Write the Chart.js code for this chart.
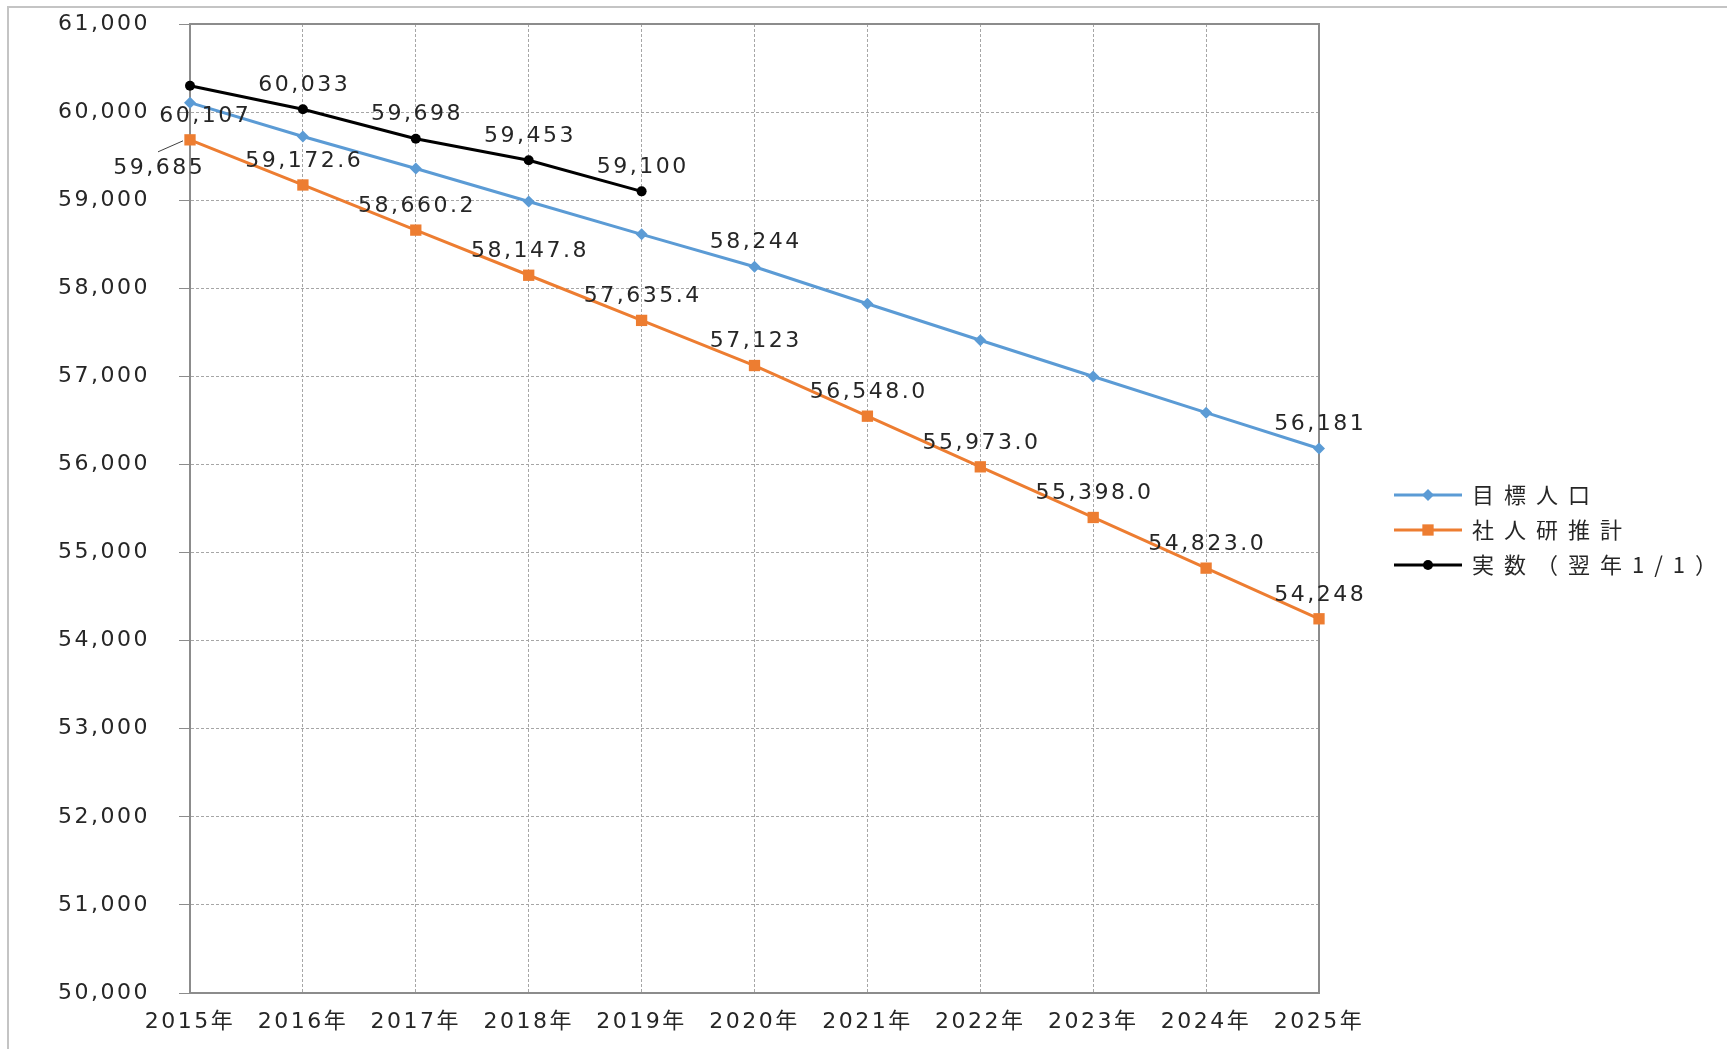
<!DOCTYPE html>
<html>
<head>
<meta charset="utf-8">
<script src="https://cdn.jsdelivr.net/npm/chart.js@4/dist/chart.umd.min.js"></script>
<style>
  body { margin: 0; background: #fff; }
  #wrap { width: 1727px; height: 1049px; }
</style>
</head>
<body>
<div id="wrap"><canvas id="canvas" width="1727" height="1049"></canvas></div>
<script>
// categories and series
var years = ['2015年', '2016年', '2017年', '2018年', '2019年', '2020年', '2021年', '2022年', '2023年', '2024年', '2025年'];
var targetPop = [60107, 59723, 59360, 58985, 58612, 58244, 57824, 57410, 56998, 56588, 56181];
var ipssEstimate = [59685, 59172.6, 58660.2, 58147.8, 57635.4, 57123, 56548.0, 55973.0, 55398.0, 54823.0, 54248];
var actualPop = [60300, 60033, 59698, 59453, 59100, null, null, null, null, null, null];

// value labels shown on the chart
var targetLabels = ['60,107', '', '', '', '', '58,244', '', '', '', '', '56,181'];
var ipssLabels = ['59,685', '59,172.6', '58,660.2', '58,147.8', '57,635.4', '57,123', '56,548.0', '55,973.0', '55,398.0', '54,823.0', '54,248'];
var actualLabels = ['', '60,033', '59,698', '59,453', '59,100', '', '', '', '', '', ''];

var seriesNames = ['目標人口', '社人研推計', '実数（翌年1/1）'];
var yTicks = [50000, 51000, 52000, 53000, 54000, 55000, 56000, 57000, 58000, 59000, 60000, 61000];

var colors = ['#5B9BD5', '#ED7D31', '#000000'];
var labelSets = [targetLabels, ipssLabels, actualLabels];
// a couple of labels sit off the default spot (dataset-index : [dx, dy, leader])
var labelShift = { '0-0': [14, 14, false], '1-0': [-32, 28, true] };

var numFont = '"DejaVu Sans", "Noto Sans CJK JP", sans-serif';
var spacing = 2.5;

var frame = {
	id: 'frame',
	beforeUpdate: function(chart) { chart.ctx.letterSpacing = spacing + 'px'; },
	beforeDraw: function(chart) {
		var ctx = chart.ctx;
		ctx.letterSpacing = spacing + 'px';
		ctx.save();
		ctx.fillStyle = '#fff';
		ctx.fillRect(0, 0, chart.width, chart.height);
		ctx.strokeStyle = '#c4c4c4';
		ctx.lineWidth = 2;
		ctx.beginPath();
		ctx.moveTo(8, chart.height);
		ctx.lineTo(8, 7);
		ctx.lineTo(chart.width, 7);
		ctx.stroke();
		ctx.restore();
	},
	beforeDatasetsDraw: function(chart) {
		var a = chart.chartArea, ctx = chart.ctx;
		ctx.save();
		ctx.strokeStyle = '#8c8c8c';
		ctx.lineWidth = 2;
		ctx.strokeRect(a.left, a.top, a.right - a.left, a.bottom - a.top);
		ctx.restore();
	}
};

var valueLabels = {
	id: 'valueLabels',
	afterDatasetsDraw: function(chart) {
		var ctx = chart.ctx;
		ctx.save();
		ctx.font = '22px ' + numFont;
		ctx.letterSpacing = spacing + 'px';
		ctx.fillStyle = '#262626';
		ctx.textAlign = 'center';
		ctx.textBaseline = 'middle';
		labelSets.forEach(function(labels, di) {
			var meta = chart.getDatasetMeta(di);
			labels.forEach(function(txt, i) {
				if (!txt) return;
				var pt = meta.data[i];
				var dx = 0, dy = -24, leader = false;
				var s = labelShift[di + '-' + i];
				if (s) { dx = s[0]; dy = s[1]; leader = s[2]; }
				if (leader) {
					ctx.strokeStyle = '#404040';
					ctx.lineWidth = 1;
					ctx.beginPath();
					ctx.moveTo(pt.x - 32, pt.y + 12);
					ctx.lineTo(pt.x - 7, pt.y + 1);
					ctx.stroke();
				}
				ctx.fillText(txt, pt.x + dx + spacing / 2, pt.y + dy);
			});
		});
		ctx.restore();
	}
};

var sideLegend = {
	id: 'sideLegend',
	afterDraw: function(chart) {
		var ctx = chart.ctx;
		var x0 = chart.chartArea.right + 75;
		var rows = [495, 530, 565];
		var styles = ['rectRot', 'rect', 'circle'];
		var radii = [6, 8, 5];
		ctx.save();
		seriesNames.forEach(function(name, i) {
			var y = rows[i];
			ctx.strokeStyle = colors[i];
			ctx.lineWidth = 3;
			ctx.beginPath();
			ctx.moveTo(x0, y);
			ctx.lineTo(x0 + 68, y);
			ctx.stroke();
			ctx.fillStyle = colors[i];
			Chart.helpers.drawPoint(ctx, { pointStyle: styles[i], radius: radii[i], borderWidth: 0 }, x0 + 34, y);
			ctx.font = '22px "Noto Sans CJK JP", sans-serif';
			ctx.letterSpacing = '10px';
			ctx.fillStyle = '#262626';
			ctx.textAlign = 'left';
			ctx.textBaseline = 'middle';
			ctx.fillText(name, x0 + 78, y);
		});
		ctx.restore();
	}
};

var ctx = document.getElementById('canvas').getContext('2d');
window.myLine = new Chart(ctx, {
	type: 'line',
	data: {
		labels: years,
		datasets: [
			{ label: seriesNames[0], data: targetPop, borderColor: colors[0], backgroundColor: colors[0], borderWidth: 3,
			  pointStyle: 'rectRot', pointRadius: 6, pointBorderWidth: 0 },
			{ label: seriesNames[1], data: ipssEstimate, borderColor: colors[1], backgroundColor: colors[1], borderWidth: 3,
			  pointStyle: 'rect', pointRadius: 8, pointBorderWidth: 0 },
			{ label: seriesNames[2], data: actualPop, borderColor: colors[2], backgroundColor: colors[2], borderWidth: 3,
			  pointStyle: 'circle', pointRadius: 5, pointBorderWidth: 0, spanGaps: false }
		]
	},
	options: {
		responsive: false,
		animation: false,
		layout: { padding: { left: 0, top: 24, right: 408, bottom: 0 } },
		plugins: {
			legend: { display: false },
			tooltip: { enabled: false }
		},
		scales: {
			x: {
				offset: false,
				grid: { color: '#a6a6a6', lineWidth: 1, drawTicks: false },
				border: { display: true, color: '#8c8c8c', width: 2, dash: [3, 2] },
				ticks: { color: '#262626', padding: 16, maxRotation: 0, autoSkip: false, font: { family: numFont, size: 22 } },
				afterFit: function(scale) { scale.height = 56; scale.paddingLeft = 0; scale.paddingRight = 0; }
			},
			y: {
				min: 50000,
				max: 61000,
				afterBuildTicks: function(scale) {
					scale.ticks = yTicks.map(function(v) { return { value: v }; });
				},
				grid: { color: '#a6a6a6', lineWidth: 1, tickLength: 11, tickColor: '#8c8c8c', tickBorderDash: [] },
				border: { display: true, color: '#8c8c8c', width: 2, dash: [3, 2] },
				ticks: {
					color: '#262626', padding: 29, font: { family: numFont, size: 22 },
					callback: function(v) { return v.toLocaleString('en-US'); }
				},
				afterFit: function(scale) { scale.width = 190; scale.paddingTop = 0; scale.paddingBottom = 0; }
			}
		}
	},
	plugins: [frame, valueLabels, sideLegend]
});
</script>
</body>
</html>
